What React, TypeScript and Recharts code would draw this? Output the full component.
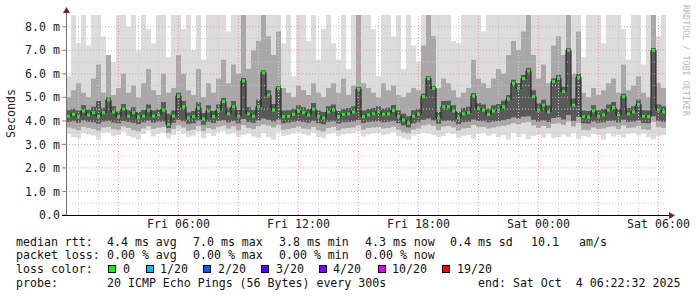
import React from 'react';
import {
  ComposedChart,
  Area,
  Line,
  XAxis,
  YAxis,
  ReferenceLine,
} from 'recharts';

// 30 hour window, one reading every 15 minutes (hours since Fri 00:00)
const START = 0.376;
const STEP = 0.25;

// median rtt (ms)
const median = [
  4.2, 4.28, 4.2, 4.42, 4.25, 4.35, 4.2, 4.35, 4.89, 4.38,
  4.18, 4.5, 4.2, 4.35, 4.14, 4.2, 4.46, 4.2, 4.25, 4.46,
  3.85, 4.2, 5.06, 4.6, 4.12, 4.18, 4.55, 4.08, 4.42, 4.18,
  4.46, 4.82, 4.3, 4.6, 4.2, 5.7, 4.3, 4.2, 4.6, 6.05,
  5.1, 4.46, 5.38, 4.18, 4.2, 4.28, 4.42, 4.35, 4.25, 4.5,
  4.2, 4.12, 4.38, 4.46, 4.18, 4.28, 4.3, 4.38, 5.35, 4.18,
  4.25, 4.3, 4.38, 4.28, 4.3, 4.44, 4.2, 4.04, 3.9, 4.2,
  4.28, 5.03, 5.8, 5.38, 4.12, 4.6, 4.6, 4.42, 4.12, 4.3,
  4.35, 5.06, 4.52, 4.46, 4.28, 4.42, 4.46, 4.6, 4.92, 5.6,
  5.38, 5.8, 6.12, 5.03, 4.46, 4.67, 4.38, 5.67, 5.8, 5.24,
  7.0, 4.67, 5.85, 4.18, 4.16, 4.42, 4.2, 4.25, 4.46, 4.57,
  4.25, 5.03, 4.3, 4.38, 4.7, 4.2, 4.18, 7.0, 4.46, 4.38, 4.3,
];

// smoke: slowest ping of each step (clipped at the top of the graph)
const smokeMax = [
  5.9, 8.5, 7.3, 8.5, 7.2, 8.5, 8.5, 7.6, 6.7, 6.5,
  8.5, 8.5, 8.0, 8.5, 7.0, 8.5, 7.9, 7.3, 8.5, 8.5,
  6.7, 8.5, 8.5, 7.9, 8.5, 7.0, 8.5, 6.6, 8.5, 8.5,
  8.5, 8.5, 7.8, 8.5, 8.5, 8.5, 8.5, 8.5, 8.5, 8.5,
  8.5, 8.5, 8.5, 7.3, 8.5, 5.9, 8.5, 8.5, 7.4, 8.5,
  6.6, 7.9, 8.5, 7.3, 6.6, 8.5, 6.2, 8.5, 8.5, 8.5,
  8.5, 7.9, 5.9, 8.5, 8.5, 7.6, 8.5, 6.2, 8.5, 7.2,
  6.5, 8.5, 8.5, 8.5, 8.5, 8.5, 8.5, 7.4, 7.3, 8.5,
  8.5, 8.5, 8.5, 7.8, 8.5, 8.5, 8.5, 8.5, 8.5, 8.5,
  8.5, 8.5, 8.5, 8.5, 8.5, 8.5, 8.5, 8.5, 8.5, 8.5,
  8.5, 8.5, 8.5, 6.7, 8.5, 8.5, 8.5, 7.3, 8.5, 8.5,
  8.5, 7.9, 6.6, 8.5, 8.5, 6.4, 8.5, 8.5, 7.6, 8.5, 7.6,
];

// smoke: upper edge of the middle band
const smokeUpper = [
  5.0, 5.3, 5.6, 5.2, 5.0, 5.8, 6.4, 5.2, 6.8, 5.1,
  5.4, 6.0, 5.2, 5.5, 5.0, 5.6, 6.2, 5.3, 5.1, 6.0,
  5.2, 5.4, 6.8, 6.0, 5.3, 5.1, 6.2, 5.0, 5.6, 5.2,
  5.8, 6.6, 5.6, 6.4, 6.0, 8.5, 6.2, 7.0, 7.4, 8.5,
  7.6, 6.8, 7.8, 5.4, 5.2, 5.0, 5.5, 5.3, 5.1, 5.6,
  5.2, 5.0, 5.4, 5.6, 5.2, 5.8, 5.1, 5.5, 8.5, 5.6,
  5.4, 5.2, 5.0, 5.6, 5.3, 5.5, 5.1, 5.0, 5.2, 5.4,
  5.3, 7.2, 8.5, 7.6, 5.4, 5.8, 5.6, 5.3, 5.0, 5.2,
  5.4, 6.6, 5.8, 5.6, 5.4, 5.8, 6.2, 6.0, 6.8, 7.4,
  7.0, 7.8, 8.5, 6.8, 5.8, 6.4, 5.6, 7.2, 7.6, 6.8,
  8.5, 6.0, 7.8, 5.2, 5.0, 5.4, 5.1, 5.3, 5.6, 5.8,
  5.2, 6.4, 5.3, 5.5, 5.9, 5.2, 5.0, 8.5, 5.6, 5.4, 5.2,
];

// smoke: upper edge of the dark core
const coreUpper = [
  4.45, 4.52, 4.44, 4.66, 4.48, 4.6, 4.85, 4.56, 5.0, 4.62,
  4.4, 4.72, 4.45, 4.58, 4.38, 4.46, 4.7, 4.44, 4.5, 4.8,
  4.3, 4.44, 5.2, 4.85, 4.36, 4.42, 4.78, 4.34, 4.66, 4.42,
  4.7, 4.98, 4.56, 4.84, 4.46, 5.82, 4.58, 4.46, 4.9, 6.15,
  5.3, 4.72, 5.5, 4.44, 4.45, 4.52, 4.66, 4.58, 4.5, 4.76,
  4.44, 4.38, 4.62, 4.7, 4.42, 4.52, 4.55, 4.62, 5.45, 4.44,
  4.5, 4.55, 4.62, 4.52, 4.56, 4.68, 4.45, 4.3, 4.2, 4.45,
  4.52, 5.15, 5.9, 5.5, 4.38, 4.84, 4.86, 4.66, 4.38, 4.55,
  4.6, 5.18, 4.76, 4.7, 4.52, 4.66, 4.72, 4.86, 5.1, 5.75,
  5.6, 5.95, 6.25, 5.3, 4.75, 4.9, 4.65, 5.8, 5.95, 5.45,
  7.1, 4.95, 6.0, 4.44, 4.42, 4.66, 4.45, 4.5, 4.7, 4.8,
  4.5, 5.15, 4.55, 4.62, 4.9, 4.45, 4.44, 7.1, 4.7, 4.62, 4.55,
];

// smoke: lower edge of the dark core
const coreLower = [
  3.95, 3.98, 3.92, 4.02, 3.96, 3.94, 3.88, 3.97, 3.99, 3.93,
  3.9, 4.0, 3.95, 3.92, 3.86, 3.94, 4.01, 3.93, 3.96, 3.98,
  3.7, 3.92, 4.05, 3.98, 3.88, 3.9, 4.02, 3.84, 3.96, 3.91,
  3.99, 4.03, 3.94, 4.0, 3.9, 4.08, 3.95, 3.92, 4.02, 4.1,
  4.05, 3.97, 4.06, 3.9, 3.93, 3.96, 4.0, 3.95, 3.92, 3.99,
  3.9, 3.86, 3.96, 3.98, 3.89, 3.94, 3.95, 3.97, 4.04, 3.91,
  3.95, 3.97, 3.98, 3.94, 3.96, 3.99, 3.9, 3.8, 3.72, 3.9,
  3.94, 4.05, 4.1, 4.02, 3.88, 4.0, 4.02, 3.97, 3.86, 3.94,
  3.96, 4.06, 3.99, 3.98, 3.94, 3.97, 4.0, 4.03, 4.08, 4.15,
  4.1, 4.18, 4.2, 4.05, 3.96, 4.02, 3.95, 4.12, 4.15, 4.06,
  4.25, 4.0, 4.18, 3.9, 3.89, 3.97, 3.92, 3.94, 3.99, 4.01,
  3.93, 4.05, 3.95, 3.97, 4.02, 3.91, 3.9, 4.2, 3.99, 3.96, 3.94,
];

// smoke: lower edge of the middle band
const smokeLower = [
  3.72, 3.68, 3.6, 3.75, 3.7, 3.66, 3.58, 3.72, 3.74, 3.64,
  3.62, 3.76, 3.7, 3.6, 3.55, 3.68, 3.77, 3.66, 3.71, 3.74,
  3.48, 3.65, 3.8, 3.72, 3.58, 3.62, 3.78, 3.56, 3.7, 3.64,
  3.75, 3.8, 3.68, 3.76, 3.6, 3.82, 3.7, 3.64, 3.78, 3.85,
  3.8, 3.72, 3.82, 3.62, 3.66, 3.7, 3.76, 3.68, 3.64, 3.74,
  3.6, 3.55, 3.7, 3.74, 3.6, 3.68, 3.7, 3.72, 3.8, 3.62,
  3.7, 3.72, 3.74, 3.68, 3.7, 3.75, 3.62, 3.52, 3.46, 3.62,
  3.68, 3.8, 3.85, 3.78, 3.6, 3.76, 3.78, 3.72, 3.58, 3.68,
  3.7, 3.82, 3.75, 3.74, 3.68, 3.72, 3.76, 3.79, 3.84, 3.9,
  3.86, 3.92, 3.95, 3.8, 3.7, 3.78, 3.7, 3.88, 3.9, 3.82,
  3.98, 3.76, 3.92, 3.62, 3.6, 3.72, 3.66, 3.68, 3.74, 3.76,
  3.66, 3.8, 3.7, 3.72, 3.78, 3.64, 3.62, 3.96, 3.74, 3.7, 3.68,
];

// smoke: fastest ping of each step
const smokeMin = [
  3.45, 3.3, 3.25, 3.5, 3.42, 3.38, 3.2, 3.48, 3.52, 3.35,
  3.4, 3.55, 3.36, 3.28, 3.22, 3.44, 3.58, 3.34, 3.46, 3.5,
  3.25, 3.4, 3.56, 3.46, 3.3, 3.38, 3.54, 3.26, 3.48, 3.36,
  3.52, 3.56, 3.42, 3.5, 3.32, 3.4, 3.46, 3.34, 3.28, 3.48,
  3.3, 3.2, 3.54, 3.36, 3.4, 3.46, 3.52, 3.44, 3.38, 3.5,
  3.32, 3.26, 3.44, 3.5, 3.36, 3.42, 3.46, 3.48, 3.56, 3.34,
  3.42, 3.46, 3.5, 3.4, 3.44, 3.52, 3.36, 3.26, 3.2, 3.38,
  3.44, 3.5, 3.46, 3.4, 3.3, 3.36, 3.48, 3.44, 3.28, 3.36,
  3.4, 3.24, 3.46, 3.5, 3.38, 3.44, 3.32, 3.4, 3.2, 3.48,
  3.3, 3.44, 3.22, 3.36, 3.4, 3.28, 3.46, 3.26, 3.3, 3.42,
  3.34, 3.48, 3.24, 3.36, 3.3, 3.44, 3.4, 3.2, 3.46, 3.34,
  3.4, 3.28, 3.44, 3.48, 3.38, 3.46, 3.3, 3.22, 3.36, 3.4, 3.44,
];

const yTicks = [0, 1, 2, 3, 4, 5, 6, 7, 8];
const yTickLabels = ['0.0', '1.0 m', '2.0 m', '3.0 m', '4.0 m', '5.0 m', '6.0 m', '7.0 m', '8.0 m'];
const xTicks = [6, 12, 18, 24, 30];
const xTickLabels = ['Fri 06:00', 'Fri 12:00', 'Fri 18:00', 'Sat 00:00', 'Sat 06:00'];

const rttStats = ['4.4 ms avg', '7.0 ms max', '3.8 ms min', '4.3 ms now', '0.4 ms sd'];
const lossStats = ['0.00 % avg', '0.00 % max', '0.00 % min', '0.00 % now'];
const lossLabels = ['0', '1/20', '2/20', '3/20', '4/20', '10/20', '19/20'];
const lossColors = ['#00ff00', '#00b8ff', '#0059ff', '#5e00ff', '#7e00ff', '#dd00ff', '#ff0000'];

const rows = median.map((m, i) => ({
  t: START + i * STEP,
  med: m,
  hi: smokeMax[i],
  up: smokeUpper[i],
  q3: coreUpper[i],
  q1: coreLower[i],
  lo2: smokeLower[i],
  lo: smokeMin[i],
}));

const hourLines = Array.from({ length: 30 }, (_, i) => i + 1).filter((h) => h % 3 !== 0);
const majorHourLines = [3, 6, 9, 12, 15, 18, 21, 24, 27, 30];
const halfLines = [0.5, 1.5, 2.5, 3.5, 4.5, 5.5, 6.5, 7.5];
const msLines = [1, 2, 3, 4, 5, 6, 7, 8];

const MONO = "'DejaVu Sans Mono', monospace";
const FS = 11.6;

// layout of the legend block under the graph
const colX = [107, 193, 279, 365, 450];
const boxX = [108, 146, 203, 261, 319, 378, 442];
const boxLabelX = [123, 160, 218, 276, 333, 392, 457];

const MedianDot = (props: any) => {
  const { cx, cy, index } = props;
  if (cx == null || cy == null || index === rows.length - 1) return <g key={'d' + index} />;
  return <rect key={'d' + index} x={cx + 1} y={cy - 1.5} width={3.2} height={3} fill="#22ee22" />;
};

export default function App() {
  return (
    <div style={{ position: 'absolute', left: 0, top: 0, width: 697, height: 297, background: '#fff' }}>
      <ComposedChart
        width={697}
        height={297}
        data={rows}
        margin={{ top: 15, right: 31, bottom: 62, left: 0 }}
      >
        <XAxis
          type="number"
          dataKey="t"
          domain={[START, START + 120 * STEP]}
          ticks={xTicks}
          tickFormatter={(v) => xTickLabels[xTicks.indexOf(v)]}
          axisLine={false}
          tickLine={false}
          tickSize={0}
          tickMargin={5}
          height={20}
          tick={{ fontFamily: MONO, fontSize: FS, fill: '#222' }}
          allowDataOverflow
        />
        <YAxis
          type="number"
          domain={[0, 8.5]}
          ticks={yTicks}
          tickFormatter={(v) => yTickLabels[yTicks.indexOf(v)]}
          axisLine={false}
          tickLine={{ stroke: '#888' }}
          tickSize={4}
          tickMargin={2}
          width={66}
          tick={{ fontFamily: MONO, fontSize: FS, fill: '#222' }}
          allowDataOverflow
        />
        <Area
          type="stepAfter"
          dataKey={(d: any) => [d.lo, d.hi]}
          stroke="none"
          fill="#dcdcdc"
          fillOpacity={1}
          isAnimationActive={false}
        />
        <Area
          type="stepAfter"
          dataKey={(d: any) => [d.lo2, d.up]}
          stroke="none"
          fill="#a8a8a8"
          fillOpacity={1}
          isAnimationActive={false}
        />
        <Area
          type="stepAfter"
          dataKey={(d: any) => [d.q1, d.q3]}
          stroke="none"
          fill="#595959"
          fillOpacity={1}
          isAnimationActive={false}
        />
        {halfLines.map((v) => (
          <ReferenceLine key={'h' + v} y={v} stroke="#c8c8c8" strokeDasharray="1 2" />
        ))}
        {msLines.map((v) => (
          <ReferenceLine key={'m' + v} y={v} stroke="#e89a9a" strokeDasharray="1 2" />
        ))}
        {hourLines.map((v) => (
          <ReferenceLine key={'x' + v} x={v} stroke="#c8c8c8" strokeDasharray="1 2" />
        ))}
        {majorHourLines.map((v) => (
          <ReferenceLine key={'X' + v} x={v} stroke="#e89a9a" strokeDasharray="1 2" />
        ))}
        <Line
          type="stepAfter"
          dataKey="med"
          stroke="#1a1a1a"
          strokeWidth={1}
          dot={MedianDot}
          activeDot={false}
          isAnimationActive={false}
        />
      </ComposedChart>

      <svg
        width={697}
        height={297}
        style={{ position: 'absolute', left: 0, top: 0, pointerEvents: 'none' }}
        fontFamily={MONO}
        fontSize={FS}
      >
        {/* axes with arrow heads */}
        <line x1={66.5} y1={215} x2={66.5} y2={10} stroke="#707070" />
        <polygon points="63,13 70,13 66.5,7" fill="#8a1c1c" />
        <line x1={62} y1={215.5} x2={669} y2={215.5} stroke="#000" />
        <polygon points="669,212 669,219 675,215.5" fill="#8a1c1c" />

        <text
          transform="translate(15,113.5) rotate(-90)"
          textAnchor="middle"
          fill="#222"
        >
          Seconds
        </text>
        <text
          transform="translate(683,5) rotate(90)"
          fontSize={8.4}
          fill="#b8b8b8"
        >
          RRDTOOL / TOBI OETIKER
        </text>

        <g fill="#111" style={{ whiteSpace: 'pre' }}>
          <text x={16} y={245.5}>median rtt:</text>
          {rttStats.map((s, i) => (
            <text key={'r' + i} x={colX[i]} y={245.5}>{s}</text>
          ))}
          <text x={531} y={245.5}>10.1</text>
          <text x={579} y={245.5}>am/s</text>

          <text x={16} y={259.3}>packet loss:</text>
          {lossStats.map((s, i) => (
            <text key={'l' + i} x={colX[i]} y={259.3}>{s}</text>
          ))}

          <text x={16} y={273.2}>loss color:</text>
          {lossLabels.map((s, i) => (
            <g key={'c' + i}>
              <rect x={boxX[i] + 0.5} y={265.5} width={7} height={7} fill={lossColors[i]} stroke="#000" />
              <text x={boxLabelX[i]} y={273.2}>{s}</text>
            </g>
          ))}

          <text x={16} y={287}>probe:</text>
          <text x={107} y={287}>20 ICMP Echo Pings (56 Bytes) every 300s</text>
          <text x={478} y={287} xmlSpace="preserve">end: Sat Oct  4 06:22:32 2025</text>
        </g>
      </svg>
    </div>
  );
}
